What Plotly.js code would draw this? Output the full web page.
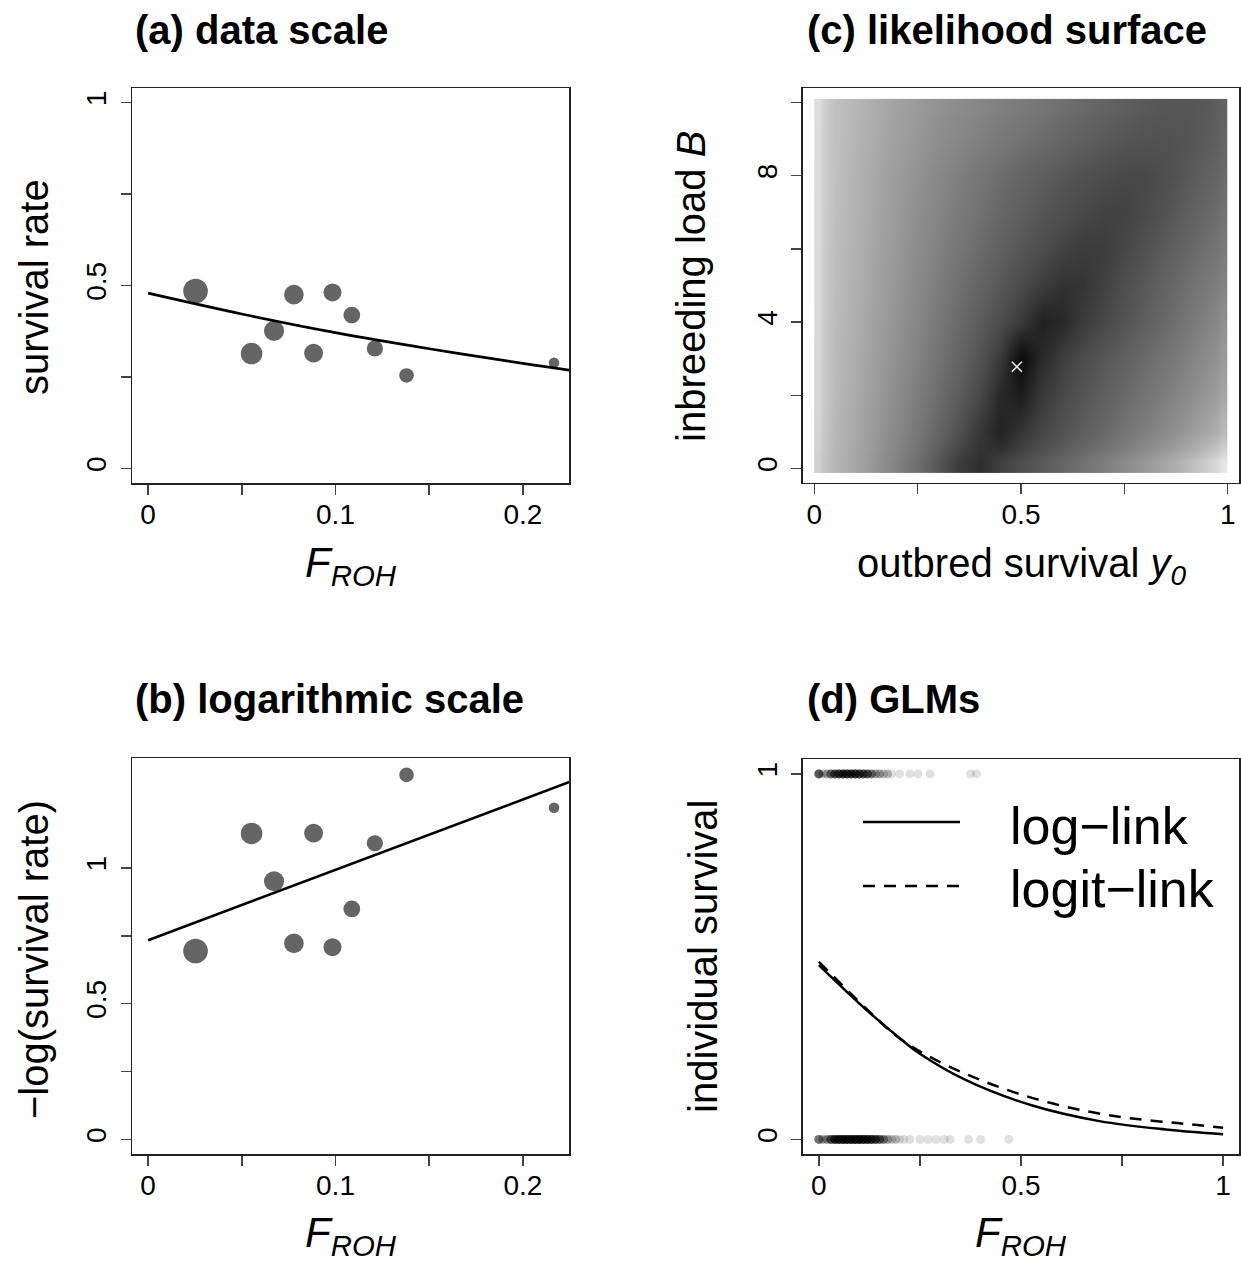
<!DOCTYPE html>
<html><head><meta charset="utf-8">
<script src="https://cdn.plot.ly/plotly-3.0.1.min.js"></script>
<style>html,body{margin:0;padding:0;background:#fff}</style>
</head><body><div id="plot" style="width:1241px;height:1261px"></div>
<script>
// ---------- Panels (a) and (b): grouped survival data ----------
const groupFroh = [0.0253, 0.0552, 0.0672, 0.0778, 0.0883, 0.0984, 0.1087, 0.1210, 0.1379, 0.2166];
const groupSurvival = [0.485, 0.314, 0.376, 0.475, 0.315, 0.481, 0.419, 0.328, 0.254, 0.289];
const groupNegLogSurvival = [0.694, 1.127, 0.951, 0.722, 1.128, 0.708, 0.849, 1.091, 1.343, 1.222];
const groupN = [60, 46, 40, 38, 35, 32, 28, 26, 21, 11];

const fitFrohA = [0, 0.05, 0.10, 0.15, 0.20, 0.23];
const fitSurvivalA = [0.479, 0.422, 0.371, 0.327, 0.287, 0.265];
const fitFrohB = [0, 0.23];
const fitNegLogB = [0.734, 1.330];

// ---------- Panel (c): likelihood surface (grey level) ----------
const surfaceY0 = [0, 0.05, 0.10, 0.15, 0.20, 0.25, 0.30, 0.35, 0.40, 0.45, 0.50, 0.55, 0.60, 0.65, 0.70, 0.75, 0.80, 0.85, 0.90, 0.95, 1.00];
const surfaceB = [0, 1, 2, 3, 4, 5, 6, 7, 8, 9, 10];
const surfaceGrey = [
  [208,182,165,148,130,110, 86, 60, 46, 64, 78, 90,102,114,126,139,152,167,184,206,230],
  [212,184,168,152,136,119,101, 81, 56, 34, 54, 70, 82, 94,105,116,127,139,152,167,186],
  [214,186,170,155,140,125,109, 92, 72, 40, 28, 58, 73, 85, 96,106,116,127,138,151,166],
  [215,187,172,158,144,130,115,100, 83, 58, 10, 42, 62, 76, 87, 97,107,117,128,140,154],
  [216,188,174,160,147,134,120,106, 92, 77, 58, 32, 40, 60, 72, 84, 95,106,118,130,144],
  [217,189,176,162,150,137,125,112,100, 88, 75, 62, 50, 52, 66, 78, 89,100,111,121,132],
  [218,190,177,164,152,140,129,118,107, 96, 87, 77, 68, 60, 61, 71, 81, 92,102,112,122],
  [219,191,178,166,154,143,133,123,113,103, 95, 86, 79, 72, 67, 67, 74, 84, 94,104,114],
  [220,192,179,167,156,146,136,127,118,109,101, 94, 87, 81, 76, 72, 72, 78, 88, 97,107],
  [221,192,181,170,160,151,142,135,128,121,115,108,102, 96, 90, 86, 83, 82, 84, 91,101],
  [222,192,182,172,162,154,146,140,134,128,123,117,111,105, 99, 94, 89, 86, 85, 89, 98]
];
const mleY0 = [0.490];
const mleB = [2.78];

// ---------- Panel (d): individual survival and GLM fits ----------
const survivedFroh  = [0.000,0.010,0.020,0.030,0.040,0.050,0.060,0.070,0.080,0.090,0.100,0.110,0.120,0.130,0.140,0.150,0.160,0.170,0.180,0.200,0.225,0.245,0.275,0.375,0.390];
const survivedCount = [8,2,3,6,8,9,10,10,10,10,9,8,7,5,3,3,2,2,1,1,1,1,1,1,1];
const diedFroh  = [0.000,0.010,0.020,0.030,0.040,0.050,0.060,0.070,0.080,0.090,0.100,0.110,0.120,0.130,0.140,0.150,0.160,0.170,0.180,0.190,0.200,0.210,0.225,0.250,0.270,0.290,0.310,0.325,0.370,0.400,0.470];
const diedCount = [6,3,4,8,11,13,14,14,14,14,14,13,12,11,9,7,5,3,2,2,1,1,1,1,1,1,1,1,1,1,1];

const logLinkFroh = [0, 0.118, 0.200, 0.249, 0.364, 0.524, 0.694, 0.858, 1.0];
const logLinkSurvival = [0.477, 0.354, 0.277, 0.235, 0.162, 0.094, 0.050, 0.027, 0.014];
const logitLinkFroh = [0, 0.118, 0.200, 0.282, 0.381, 0.480, 0.579, 0.677, 0.776, 0.891, 1.0];
const logitLinkSurvival = [0.486, 0.357, 0.276, 0.2215, 0.171, 0.130, 0.098, 0.074, 0.057, 0.044, 0.032];

// ---------- helpers ----------
const W = 1241, H = 1261;
const FONT = 'Liberation Sans, Arial, Helvetica, sans-serif';
const px = v => v / W;
const py = v => 1 - v / H;
function expand(vals, counts) {
  const out = [];
  vals.forEach((v, i) => { for (let k = 0; k < counts[i]; k++) out.push(v); });
  return out;
}
function edges(c, padLo, padHi) {
  const e = [c[0] - padLo];
  for (let i = 0; i < c.length - 1; i++) e.push((c[i] + c[i + 1]) / 2);
  e.push(c[c.length - 1] + padHi);
  return e;
}
function axis(domain, anchor, range, tickvals, ticktext, isY) {
  return {
    domain: domain, anchor: anchor, range: range,
    tickmode: 'array', tickvals: tickvals, ticktext: ticktext,
    showline: true, mirror: true, linecolor: '#222', linewidth: 1.5,
    ticks: 'outside', ticklen: 10, tickwidth: 1.5, tickcolor: '#444',
    showgrid: false, zeroline: false, fixedrange: true,
    tickfont: {family: FONT, size: 28, color: '#000'},
    tickangle: isY ? -90 : 0,
    ticklabelstandoff: isY ? 3 : -4
  };
}

const dotGrey = '#656565';
const groupSize = groupN.map(n => 3.18 * Math.sqrt(n));

const traces = [
  // (a)
  {type: 'scatter', mode: 'markers', x: groupFroh, y: groupSurvival, xaxis: 'x', yaxis: 'y',
   marker: {color: dotGrey, opacity: 1, size: groupSize, line: {width: 0}}, hoverinfo: 'skip'},
  {type: 'scatter', mode: 'lines', x: fitFrohA, y: fitSurvivalA, xaxis: 'x', yaxis: 'y',
   line: {color: '#000', width: 2.7, shape: 'spline'}, hoverinfo: 'skip'},
  // (b)
  {type: 'scatter', mode: 'markers', x: groupFroh, y: groupNegLogSurvival, xaxis: 'x2', yaxis: 'y2',
   marker: {color: dotGrey, opacity: 1, size: groupSize, line: {width: 0}}, hoverinfo: 'skip'},
  {type: 'scatter', mode: 'lines', x: fitFrohB, y: fitNegLogB, xaxis: 'x2', yaxis: 'y2',
   line: {color: '#000', width: 2.7}, hoverinfo: 'skip'},
  // (c)
  {type: 'heatmap', x: edges(surfaceY0, 0, 0), y: edges(surfaceB, 0.12, 0.1), z: surfaceGrey,
   xaxis: 'x3', yaxis: 'y3', zsmooth: 'best', zmin: 0, zmax: 255,
   colorscale: [[0, 'rgb(0,0,0)'], [1, 'rgb(255,255,255)']], showscale: false, hoverinfo: 'skip'},
  {type: 'scatter', mode: 'markers', x: mleY0, y: mleB, xaxis: 'x3', yaxis: 'y3',
   marker: {symbol: 'x-thin', size: 10, line: {color: '#e8e8e8', width: 1.6}}, hoverinfo: 'skip'},
  // (d)
  {type: 'scatter', mode: 'markers', x: expand(survivedFroh, survivedCount),
   y: expand(survivedFroh, survivedCount).map(() => 1), xaxis: 'x4', yaxis: 'y4',
   marker: {color: 'rgba(0,0,0,0.12)', opacity: 1, size: 9, line: {width: 0}}, hoverinfo: 'skip'},
  {type: 'scatter', mode: 'markers', x: expand(diedFroh, diedCount),
   y: expand(diedFroh, diedCount).map(() => 0), xaxis: 'x4', yaxis: 'y4',
   marker: {color: 'rgba(0,0,0,0.12)', opacity: 1, size: 9, line: {width: 0}}, hoverinfo: 'skip'},
  {type: 'scatter', mode: 'lines', x: logLinkFroh, y: logLinkSurvival, xaxis: 'x4', yaxis: 'y4',
   line: {color: '#000', width: 2.5, shape: 'spline'}, hoverinfo: 'skip'},
  {type: 'scatter', mode: 'lines', x: logitLinkFroh, y: logitLinkSurvival, xaxis: 'x4', yaxis: 'y4',
   line: {color: '#000', width: 2.5, shape: 'spline', dash: '12px,9px'}, hoverinfo: 'skip'}
];

const domA_x = [px(132), px(569)], domA_y = [py(483), py(88)];
const domB_y = [py(1154), py(758.3)];
const domC_x = [px(802.7), px(1239.3)], domC_y = [py(482.7), py(88.3)];
const domD_y = [py(1154), py(759.3)];

function ann(text, x, y, size, opts) {
  return Object.assign({text: text, x: px(x), y: py(y), xref: 'paper', yref: 'paper',
    showarrow: false, xanchor: 'center', yanchor: 'middle',
    font: {family: FONT, size: size, color: '#000'}}, opts || {});
}
const FROH = '<i>F</i><sub><i>ROH</i></sub>';

const layout = {
  width: W, height: H, margin: {l: 0, r: 0, t: 0, b: 0},
  paper_bgcolor: '#fff', plot_bgcolor: 'rgba(0,0,0,0)', showlegend: false,
  font: {family: FONT},
  xaxis: axis(domA_x, 'y', [-0.0086, 0.2246], [0, 0.05, 0.1, 0.15, 0.2], ['0', '', '0.1', '', '0.2'], false),
  yaxis: axis(domA_y, 'x', [-0.04, 1.04], [0, 0.25, 0.5, 0.75, 1], ['0', '', '0.5', '', '1'], true),
  xaxis2: axis(domA_x, 'y2', [-0.0086, 0.2246], [0, 0.05, 0.1, 0.15, 0.2], ['0', '', '0.1', '', '0.2'], false),
  yaxis2: axis(domB_y, 'x2', [-0.054, 1.404], [0, 0.25, 0.5, 0.75, 1], ['0', '', '0.5', '', '1'], true),
  xaxis3: axis(domC_x, 'y3', [-0.028, 1.028], [0, 0.25, 0.5, 0.75, 1], ['0', '', '0.5', '', '1'], false),
  yaxis3: axis(domC_y, 'x3', [-0.39, 10.39], [0, 2, 4, 6, 8, 10], ['0', '', '4', '', '8', ''], true),
  xaxis4: axis(domC_x, 'y4', [-0.04, 1.04], [0, 0.25, 0.5, 0.75, 1], ['0', '', '0.5', '', '1'], false),
  yaxis4: axis(domD_y, 'x4', [-0.04, 1.04], [0, 1], ['0', '1'], true),
  shapes: [
    {type: 'line', xref: 'paper', yref: 'paper', x0: px(863), x1: px(960), y0: py(822), y1: py(822),
     line: {color: '#000', width: 2.5}},
    {type: 'line', xref: 'paper', yref: 'paper', x0: px(863), x1: px(960), y0: py(886), y1: py(886),
     line: {color: '#000', width: 2.5, dash: '12px,9px'}}
  ],
  annotations: [
    ann('<b>(a) data scale</b>', 133, 30, 40, {xanchor: 'left'}),
    ann('<b>(b) logarithmic scale</b>', 133, 699, 40, {xanchor: 'left'}),
    ann('<b>(c) likelihood surface</b>', 805, 30, 40, {xanchor: 'left'}),
    ann('<b>(d) GLMs</b>', 805, 699, 40, {xanchor: 'left'}),
    ann(FROH, 350.5, 565, 42),
    ann(FROH, 350.5, 1235, 42),
    ann(FROH, 1021, 1235, 42),
    ann('outbred survival <i>y<sub>0</sub></i>', 1021, 566, 40),
    ann('survival rate', 34, 287, 40, {textangle: -90}),
    ann('\u2212log(survival rate)', 34, 960, 40, {textangle: -90}),
    ann('inbreeding load <i>B</i>', 691, 287, 40, {textangle: -90}),
    ann('individual survival', 703, 957, 40, {textangle: -90}),
    ann('log\u2212link', 1008, 826, 52, {xanchor: 'left'}),
    ann('logit\u2212link', 1008, 889, 52, {xanchor: 'left'})
  ]
};

Plotly.newPlot('plot', traces, layout, {staticPlot: true, displayModeBar: false});
</script>
</body></html>
